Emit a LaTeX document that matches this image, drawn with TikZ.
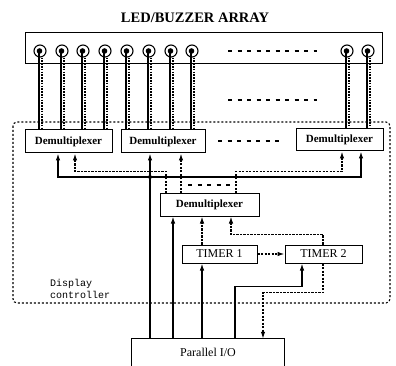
\documentclass[tikz,border=0pt]{standalone}
\usepackage{fontspec}
\setmainfont{Liberation Serif}
\setmonofont{Liberation Mono}
\usetikzlibrary{arrows.meta,positioning,calc}

\begin{document}
\begin{tikzpicture}[
  x=1pt, y=-1pt,
  box/.style={draw, line width=1pt, inner sep=0pt, font=\fontsize{11}{13}\selectfont\bfseries, align=center},
  tbox/.style={draw, line width=1pt, inner sep=0pt, font=\fontsize{12}{14}\selectfont},
  led/.style={draw, circle, line width=1.1pt, minimum size=12pt, inner sep=0pt},
  arr/.style={-{Latex[length=7pt,width=4.5pt]}, line width=1.2pt},
  sig/.style={-{Latex[length=7pt,width=4.5pt]}, line width=1.2pt, dash pattern=on 2.2pt off 1.3pt},
  wire/.style={line width=1.1pt},
  dwire/.style={line width=1.1pt, dash pattern=on 1.6pt off 1.2pt},
  more/.style={line width=1.5pt, dash pattern=on 4pt off 5.5pt},
]
\useasboundingbox (0,0) rectangle (396,366);

% LED/buzzer array
\node[font=\fontsize{14.5}{16}\selectfont\bfseries] (title) at (195,18) {LED/BUZZER ARRAY};
\node[draw, line width=1pt, minimum width=357pt, minimum height=31pt, inner sep=0pt] (array) at (203.5,48.5) {};
\foreach \i/\x in {1/40, 2/62, 3/83, 4/105, 5/127, 6/149, 7/171, 8/192, 9/347, 10/368} {
  \node[led] (L\i) at (\x,51) {};
  \fill ([xshift=-0.5pt]L\i.center) circle (2.8);
}
\draw[more] (228,51) -- (317,51);
\draw[more] (228,100) -- (317,100);

% Display controller
\draw[line width=1.1pt, dash pattern=on 2pt off 2pt, rounded corners=4pt] (13,122) rectangle (390,303);
\node[anchor=west, align=left, font=\ttfamily\fontsize{10}{12}\selectfont, inner sep=0pt] (ctrl) at (50,289) {Display\\controller};

\node[box, minimum width=87pt, minimum height=23pt] (D1) at (68.5,141.5) {Demultiplexer};
\node[box, minimum width=84pt, minimum height=23pt] (D2) at (163,141.5) {Demultiplexer};
\node[box, minimum width=87pt, minimum height=22pt] (D3) at (339.5,140) {Demultiplexer};
\draw[more] (218,141) -- (283,141);
\node[box, minimum width=99pt, minimum height=22pt] (DM) at (209.5,205) {Demultiplexer};
\draw[more] (188,185) -- (230,185);
\node[tbox, minimum width=75pt, minimum height=18pt] (T1) at (219.5,254) {TIMER 1};
\node[tbox, minimum width=77pt, minimum height=18pt] (T2) at (323.5,254) {TIMER 2};

% Parallel I/O (runs off the bottom)
\node[font=\fontsize{12}{14}\selectfont, minimum width=152pt, minimum height=27pt, inner sep=0pt] (PIO) at (208,352.5) {Parallel I/O};
\draw[line width=1pt] (PIO.south west) -- (PIO.north west) -- (PIO.north east) -- (PIO.south east);

% LED wires down to the demultiplexers
\foreach \i/\d in {1/D1, 2/D1, 3/D1, 4/D1, 5/D2, 6/D2, 7/D2, 8/D2, 9/D3, 10/D3} {
  \draw[wire] ([xshift=-1pt]L\i.center) -- ([xshift=-1pt]L\i.center |- \d.north);
  \draw[dwire] ([xshift=2pt]L\i.south) -- ([xshift=2pt]L\i.south |- \d.north);
}

% Solid lines from the parallel port
\coordinate (j) at (150,177);
\draw[arr] (j |- PIO.north) -- (j |- D2.south);
\fill (j) circle (2);
\draw[arr] (j) -| ([xshift=-10.5pt]D1.south);
\draw[arr] (j) -| ([xshift=21.5pt]D3.south);
\draw[arr] ([xshift=-35pt]PIO.north) -- ([xshift=-36.5pt]DM.south);
\draw[arr] ([xshift=-17.5pt]T1.south |- PIO.north) -- ([xshift=-17.5pt]T1.south);
\draw[arr] ([xshift=27pt]PIO.north) -- ++(0,-52) -| ([xshift=-21.5pt]T2.south);

% Dashed control lines
\draw[sig] (T1.east) -- (T2.west);
\draw[sig] ([xshift=-0.5pt]T2.south) -- ++(0,29) -| ([xshift=55pt]PIO.north);
\draw[sig] ([xshift=-17.5pt]T1.north) -- ([xshift=-7.5pt]DM.south);
\draw[sig] ([xshift=-0.5pt]T2.north) -- ++(0,-10) -| ([xshift=21.5pt]DM.south);
\draw[sig] ([xshift=-43.5pt]DM.north) -- ++(0,-22) -| ([xshift=6.5pt]D1.south);
\draw[sig] ([xshift=-28.5pt]DM.north) -- ([xshift=18pt]D2.south);
\draw[sig] ([xshift=26.5pt]DM.north) -- ++(0,-22) -| ([xshift=2.5pt]D3.south);
\end{tikzpicture}
\end{document}
